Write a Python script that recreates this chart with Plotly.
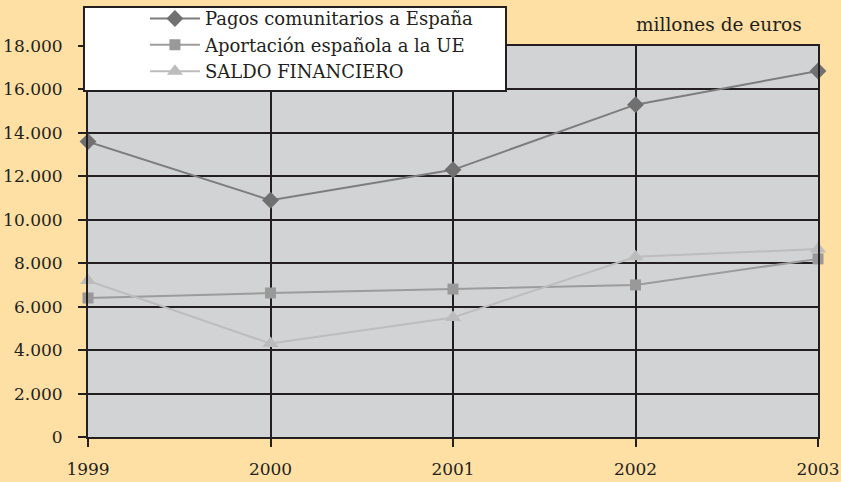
import plotly.graph_objects as go

years = [1999, 2000, 2001, 2002, 2003]
pagos = [13600, 10900, 12300, 15300, 16850]
aportacion = [6400, 6630, 6810, 7000, 8200]
saldo = [7200, 4300, 5500, 8300, 8650]

y_ticks = list(range(0, 18001, 2000))

FONT = "DejaVu Serif"
BLACK = "#231f20"

fig = go.Figure()
fig.add_trace(
    go.Scatter(
        x=years,
        y=pagos,
        mode="lines+markers",
        name="Pagos comunitarios a España",
        line=dict(color="#7d7d7d", width=2),
        marker=dict(symbol="diamond", size=13, color="#707070"),
        cliponaxis=False,
    )
)
fig.add_trace(
    go.Scatter(
        x=years,
        y=aportacion,
        mode="lines+markers",
        name="Aportación española a la UE",
        line=dict(color="#9c9c9c", width=2),
        marker=dict(symbol="square", size=11, color="#999999"),
        cliponaxis=False,
    )
)
fig.add_trace(
    go.Scatter(
        x=years,
        y=saldo,
        mode="lines+markers",
        name="SALDO FINANCIERO",
        line=dict(color="#bdbdbd", width=2),
        marker=dict(symbol="triangle-up", size=14, color="#bcbcbc"),
        cliponaxis=False,
    )
)

# white legend box with black frame
fig.add_shape(
    type="rect",
    xref="paper",
    yref="paper",
    x0=-0.0055,
    x1=0.5726,
    y0=0.885,
    y1=1.0997,
    fillcolor="white",
    line=dict(color=BLACK, width=2),
    layer="above",
)

fig.add_annotation(
    text="millones de euros",
    xref="paper",
    yref="paper",
    x=0.864,
    y=1.054,
    xanchor="center",
    yanchor="middle",
    showarrow=False,
    font=dict(family=FONT, size=18.5, color=BLACK),
)

fig.update_layout(
    width=841,
    height=482,
    paper_bgcolor="#fedfa4",
    plot_bgcolor="#d2d3d5",
    separators=",.",
    font=dict(family=FONT, size=17, color=BLACK),
    margin=dict(l=88, r=23, t=46, b=45, autoexpand=False),
    showlegend=True,
    legend=dict(
        x=0.078,
        y=1.117,
        xanchor="left",
        yanchor="top",
        bgcolor="rgba(0,0,0,0)",
        borderwidth=0,
        itemwidth=50,
        font=dict(family=FONT, size=18, color=BLACK),
        tracegroupgap=0,
    ),
    xaxis=dict(
        range=[1999, 2003],
        tickvals=years,
        ticktext=[str(y) for y in years],
        showgrid=True,
        gridcolor=BLACK,
        gridwidth=2,
        showline=True,
        linecolor=BLACK,
        linewidth=2,
        mirror=True,
        ticks="outside",
        ticklen=8,
        tickwidth=2,
        tickcolor=BLACK,
        ticklabelstandoff=8,
        zeroline=False,
        automargin=False,
        fixedrange=True,
    ),
    yaxis=dict(
        range=[0, 18000],
        tickvals=y_ticks,
        tickformat=",d",
        showgrid=True,
        gridcolor=BLACK,
        gridwidth=2,
        showline=True,
        linecolor=BLACK,
        linewidth=2,
        mirror=True,
        ticks="outside",
        ticklen=8,
        tickwidth=2,
        tickcolor=BLACK,
        ticklabelstandoff=12,
        zeroline=False,
        automargin=False,
        fixedrange=True,
    ),
)

# the page's default body margin would push the 841x482 figure off the window
fig.write_html(
    "out.html",
    config={"displayModeBar": False},
    post_script="document.body.style.margin='0';document.body.style.overflow='hidden';",
)
